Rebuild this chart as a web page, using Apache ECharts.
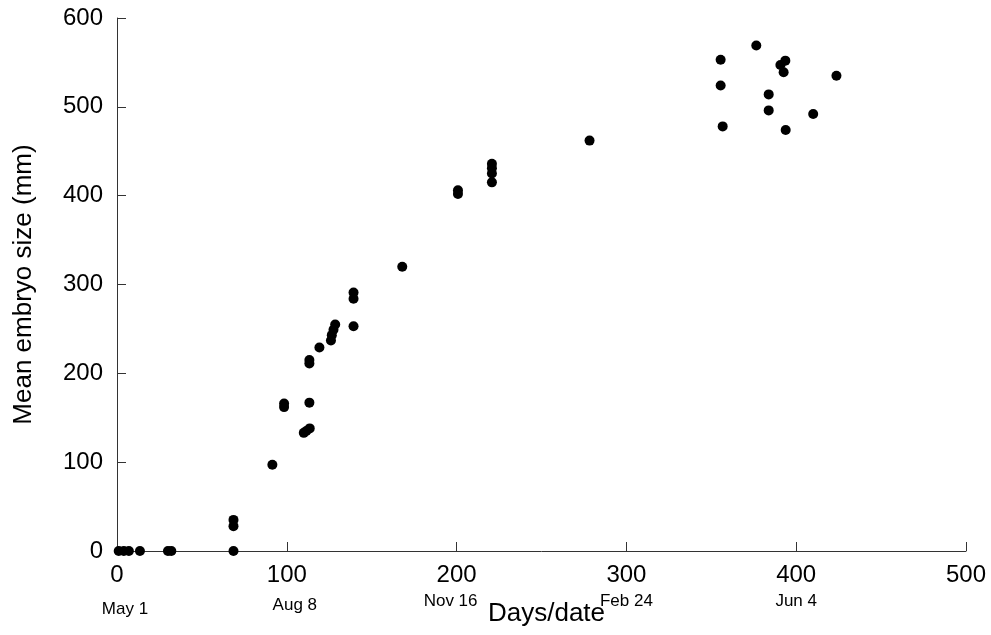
<!DOCTYPE html>
<html>
<head>
<meta charset="utf-8">
<script src="https://cdn.jsdelivr.net/npm/echarts@6/dist/echarts.min.js"></script>
<style>
html,body{margin:0;padding:0;background:#fff;}
#chart{width:991px;height:635px;}
</style>
</head>
<body>
<div id="chart"></div>
<script>
const days = [1, 4, 7, 13.5, 30, 32, 68.6, 68.6, 68.6, 91.5, 98.4, 98.4, 110, 111.5, 113.5, 113.3, 113.3, 113.3, 119.2, 126, 126.5, 127.5, 128.5, 139.3, 139.3, 139.3, 168, 200.8, 200.8, 220.8, 220.8, 220.8, 220.8, 278.3, 355.5, 355.5, 356.7, 376.5, 383.8, 383.8, 390.7, 393.6, 392.6, 393.8, 410, 423.7];
const sizes = [0, 0, 0, 0, 0, 0, 0, 28, 35, 97, 162, 166, 133, 135, 138, 167, 211, 215, 229, 237, 243, 249, 255, 253, 284, 291, 320, 402, 406, 415, 425, 431, 436, 462, 553, 524, 478, 569, 514, 496, 547, 552, 539, 474, 492, 535];
const dayTicks = [0, 100, 200, 300, 400];
const dateLabels = ['May 1', 'Aug 8', 'Nov 16', 'Feb 24', 'Jun 4'];

const points = days.map((d, i) => [d, sizes[i]]);
const font = '"Liberation Sans", Arial, Helvetica, sans-serif';
const richKeys = ['a', 'b', 'c', 'd', 'e'];

const chart = echarts.init(document.getElementById('chart'), null, {renderer: 'canvas'});
chart.setOption({
  backgroundColor: '#fff',
  animation: false,
  grid: {left: 117, right: 25, top: 18, bottom: 84},
  xAxis: [{
    type: 'value', min: 0, max: 500, interval: 100,
    name: 'Days/date', nameLocation: 'middle', nameGap: 50,
    nameTextStyle: {fontFamily: font, fontSize: 26, color: '#000', padding: [0, 0, 0, 10]},
    axisLine: {show: true, lineStyle: {color: '#333', width: 1}},
    axisTick: {show: true, inside: true, length: 9, lineStyle: {color: '#333'}},
    axisLabel: {fontFamily: font, fontSize: 24, color: '#000', margin: 12},
    splitLine: {show: false}
  }, {
    type: 'value', min: 0, max: 500, interval: 100, position: 'bottom',
    axisLine: {show: false}, axisTick: {show: false}, splitLine: {show: false},
    axisLabel: {
      margin: 42,
      formatter: function (v) {
        const i = dayTicks.indexOf(v);
        return i >= 0 ? '{' + richKeys[i] + '|' + dateLabels[i] + '}' : '';
      },
      rich: {
        a: {fontFamily: font, fontSize: 17, color: '#000', padding: [8, 0, 0, 16]},
        b: {fontFamily: font, fontSize: 17, color: '#000', padding: [4, 0, 0, 16]},
        c: {fontFamily: font, fontSize: 17, color: '#000', padding: [0, 12, 0, 0]},
        d: {fontFamily: font, fontSize: 17, color: '#000', padding: [0, 0, 4, 0]},
        e: {fontFamily: font, fontSize: 17, color: '#000', padding: [0, 0, 8, 0]}
      }
    }
  }],
  yAxis: {
    type: 'value', min: 0, max: 600, interval: 100,
    name: 'Mean embryo size (mm)', nameLocation: 'middle', nameGap: 80,
    nameTextStyle: {fontFamily: font, fontSize: 26, color: '#000'},
    axisLine: {show: true, lineStyle: {color: '#333', width: 1}},
    axisTick: {show: true, inside: true, length: 9, lineStyle: {color: '#333'}},
    axisLabel: {fontFamily: font, fontSize: 24, color: '#000', margin: 14},
    splitLine: {show: false}
  },
  series: [{
    type: 'scatter', xAxisIndex: 0,
    data: points, symbol: 'circle', symbolSize: 10,
    itemStyle: {color: '#000', opacity: 1},
    clip: false
  }]
});
</script>
</body>
</html>
